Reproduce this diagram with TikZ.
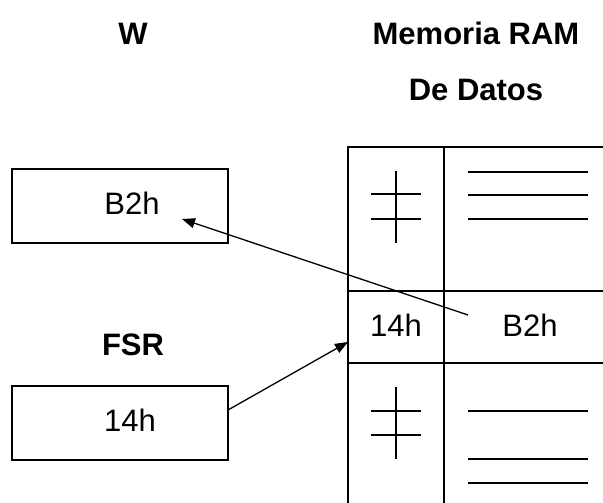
\documentclass[tikz,border=0pt]{standalone}
\usepackage{fontspec}
\setmainfont{Liberation Sans}
\usetikzlibrary{arrows.meta}
\begin{document}
\begin{tikzpicture}[x=1pt,y=-1pt,
  lbl/.style={font=\fontsize{31}{37}\selectfont\bfseries, inner sep=0pt, anchor=base},
  txt/.style={font=\fontsize{31}{37}\selectfont, inner sep=0pt, anchor=base},
  reg/.style={draw, line width=1.3pt, minimum width=216pt, minimum height=74pt, inner sep=0pt},
  mem/.style={line width=1.6pt},
  thin/.style={line width=1.2pt},
  arr/.style={line width=1.3pt, -{Triangle[length=13pt,width=10pt]}}]
\useasboundingbox (0,0) rectangle (603,503);
% headers
\node[lbl] (hW) at (133,45) {W};
\node[lbl] (hM) at (476,45) {Memoria RAM};
\node[lbl] (hD) at (476,100) {De Datos};
\node[lbl] (hF) at (133,355) {FSR};
% registers
\node[reg] (Wbox) at (120,206) {};
\node[txt] (Wval) at (132,214) {B2h};
\node[reg] (Fbox) at (120,423) {};
\node[txt] (Fval) at (130,431) {14h};
% memory frame
\draw[mem] (348,505) -- (348,147) -- (605,147);
\draw[mem] (444,147) -- (444,505);
\draw[thin] (348,291) -- (605,291);
\draw[thin] (348,363) -- (605,363);
\node[txt] (Addr) at (396,336) {14h};
\node[txt] (Data) at (530,336) {B2h};
% symbols upper cell
\draw[thin] (396,171) -- (396,243);
\draw[thin] (371,194) -- (421,194);
\draw[thin] (371,219) -- (421,219);
\draw[thin] (468,172) -- (588,172);
\draw[thin] (468,195) -- (588,195);
\draw[thin] (468,219) -- (588,219);
% symbols lower cell
\draw[thin] (396,387) -- (396,459);
\draw[thin] (371,411) -- (421,411);
\draw[thin] (371,435) -- (421,435);
\draw[thin] (468,411) -- (588,411);
\draw[thin] (468,459) -- (588,459);
\draw[thin] (468,483) -- (588,483);
% connectors
\coordinate (dstart) at (468,315);
\coordinate (wtip) at (182,219);
\coordinate (fstart) at (228,410);
\coordinate (mtip) at (348,342);
\draw[arr] (dstart) -- (wtip);
\draw[arr] (fstart) -- (mtip);
\end{tikzpicture}
\end{document}
